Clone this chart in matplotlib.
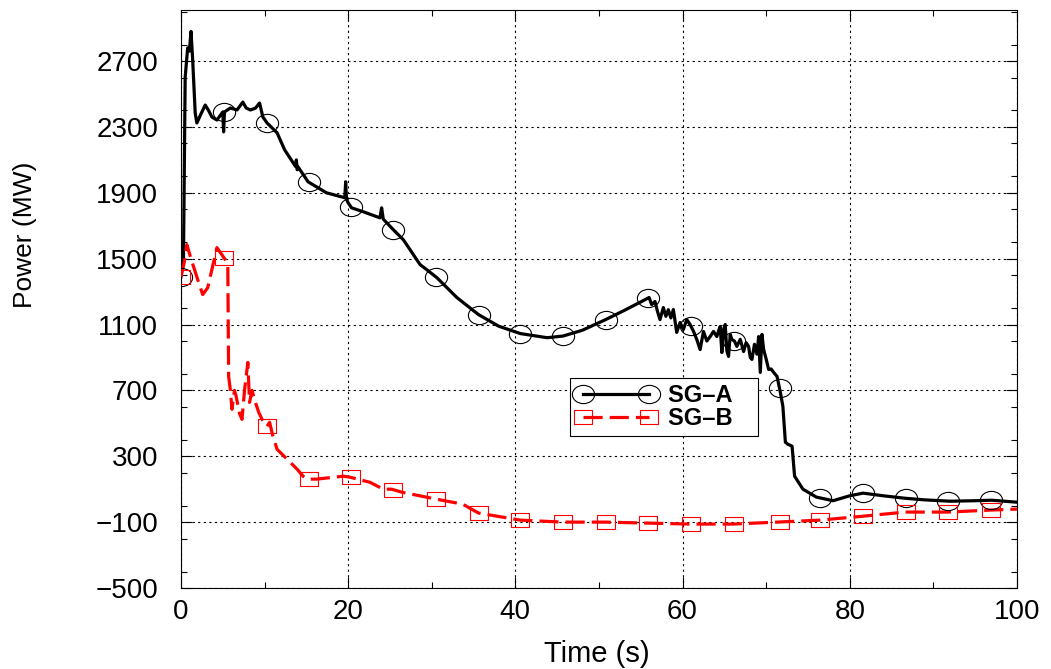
import numpy as np
import matplotlib
matplotlib.use("Agg")
import matplotlib.pyplot as plt
from matplotlib.ticker import MultipleLocator
from matplotlib.path import Path

plt.rcParams['font.family'] = ['Liberation Sans', 'DejaVu Sans']

# SG-A (black, solid)
sga_t = [0.0, 0.3, 0.5, 0.8, 1.0, 1.2, 1.4, 1.7, 1.9, 2.4, 2.9, 3.3, 3.7, 4.3, 5.0, 5.1, 5.2,
         5.9, 6.7, 7.4, 7.8, 8.3, 8.9, 9.4, 9.8, 10.3, 11.5, 12.4, 13.7, 13.8, 13.9, 14.0,
         15.2, 17.4, 19.6, 19.7, 19.8, 20.0, 20.4, 21.8, 23.8, 24.0, 24.2, 25.4, 26.6,
         28.6, 29.4, 30.6, 33.0, 35.6, 38.0, 40.6, 43.8, 45.7, 48.0, 50.8, 53.0, 55.1,
         56.0, 56.3, 56.7, 57.0, 57.3, 57.7, 58.0, 58.3, 58.6, 58.9,
         59.3, 59.7, 60.1, 60.5, 60.9, 61.3, 61.7, 62.1, 62.5, 62.9,
         63.3, 63.7, 64.1, 64.3, 64.5, 64.7, 64.9, 65.1,
         65.3, 65.5, 65.7, 65.9, 66.2, 66.5, 66.9, 67.3, 67.6, 67.9, 68.1, 68.3, 68.6, 68.9,
         69.1, 69.3, 69.5, 69.7, 70.0, 70.3, 70.6, 70.9, 71.3, 71.7, 72.0, 72.3, 72.6, 73.1,
         73.4, 74.4, 76.0, 78.0, 80.0, 81.6, 84.0, 86.6, 89.0, 92.0, 95.0, 97.0, 100.0]
sga_p = [1390, 1500, 2600, 2780, 2760, 2880, 2706, 2385, 2324, 2380, 2433, 2400, 2360, 2342,
         2391, 2270, 2391, 2415, 2403, 2451, 2415, 2403, 2414, 2445, 2360, 2324, 2264, 2161,
         2060, 2100, 2040, 2058, 1967, 1900, 1870, 1967, 1860, 1839, 1809, 1785, 1748, 1809,
         1740, 1676, 1615, 1464, 1433, 1385, 1264, 1160, 1090, 1045, 1020, 1030, 1065, 1130,
         1185, 1240,
         1264, 1221, 1240, 1180, 1130, 1203, 1150, 1190, 1140, 1191,
         1052, 1112, 1070, 1130, 1100, 1060, 1009, 948, 1058, 1000,
         1027, 1058, 1027, 1060, 1088, 930, 1070, 1100,
         940, 906, 1040, 1009, 1000, 967, 1010, 936, 990, 967, 900, 888, 980, 920,
         1027, 809, 1040, 948, 890, 827, 830, 809, 785, 688, 603, 385, 373, 361,
         179, 100, 52, 30, 60, 76, 60, 45, 35, 27, 30, 33, 21]

# SG-B (red, dashed)
sgb_t = [0.0, 0.4, 0.7, 1.2, 2.0, 2.6, 3.2, 4.3, 5.3, 5.6, 5.7, 5.9, 6.1, 6.4, 6.6, 7.0,
         7.3, 7.6, 8.0, 8.2, 8.5, 8.9, 9.3, 9.7, 10.3, 10.6, 11.0, 11.5, 12.7, 13.9, 14.6,
         15.2, 16.2, 19.4, 20.2, 22.6, 24.2, 25.2, 26.4, 30.6, 33.7, 35.6, 40.6, 45.7, 50.8,
         55.9, 61.0, 66.0, 71.3, 76.4, 81.6, 86.6, 91.7, 96.8, 100.0]
sgb_p = [1390, 1480, 1585, 1500, 1373, 1282, 1324, 1567, 1494, 1460, 785, 706, 585, 700, 664,
         560, 524, 700, 870, 627, 700, 627, 567, 524, 482, 506, 421, 342, 282, 221, 179, 161,
         161, 179, 173, 142, 100, 100, 82, 39, 9, -45, -88, -100, -100, -106, -112, -112,
         -100, -88, -64, -39, -39, -27, -21]

# marker positions (s)
mark_t = [0.0, 5.2, 10.3, 15.3, 20.3, 25.4, 30.5, 35.6, 40.6, 45.7, 50.8, 55.9, 61.0,
          66.1, 71.6, 76.4, 81.6, 86.7, 91.8, 96.9]

# slightly flattened circle / rectangle markers like the original
circ = Path.unit_circle()
ell = Path(circ.vertices * np.array([1.0, 0.82]), circ.codes)
rect = Path([(-1, -0.78), (1, -0.78), (1, 0.78), (-1, 0.78), (-1, -0.78)],
            [Path.MOVETO, Path.LINETO, Path.LINETO, Path.LINETO, Path.CLOSEPOLY])

fig = plt.figure(figsize=(10.51, 6.69), dpi=100)
ax = fig.add_axes([0.1722, 0.1211, 0.7954, 0.8639])

ax.plot(sga_t, sga_p, color='black', lw=2.3, zorder=3)
ax.plot(mark_t, np.interp(mark_t, sga_t, sga_p), ls='none', marker=ell, ms=16,
        mfc='none', mec='black', mew=0.8, zorder=4)
ax.plot(sgb_t, sgb_p, color='red', lw=2.3, dashes=(6, 2.2), zorder=3)
ax.plot(mark_t, np.interp(mark_t, sgb_t, sgb_p), ls='none', marker=rect, ms=13,
        mfc='none', mec='red', mew=0.8, zorder=4)

# legend handles
la, = ax.plot([], [], color='black', lw=2.3, marker=ell, ms=16, mfc='none', mec='black', mew=0.8)
lb, = ax.plot([], [], color='red', lw=2.3, dashes=(6, 2.2), marker=rect, ms=13, mfc='none',
              mec='red', mew=0.8)
leg = ax.legend([la, lb], ['SG\u2013A   ', 'SG\u2013B   '], loc='upper left',
                bbox_to_anchor=(0.4653, 0.3633), borderaxespad=0, numpoints=2,
                handlelength=3.4, prop={'weight': 'bold', 'size': 17}, fancybox=False,
                framealpha=1, edgecolor='black', borderpad=0.25, labelspacing=0.0,
                handletextpad=0.5)
leg.get_frame().set_linewidth(0.8)

ax.set_xlim(0, 100)
ax.set_ylim(-500, 3010)
ax.set_yticks(np.arange(-500, 2701, 400))
ax.xaxis.set_major_locator(MultipleLocator(20))
ax.xaxis.set_minor_locator(MultipleLocator(10))
ax.yaxis.set_minor_locator(MultipleLocator(200))
ax.tick_params(which='both', direction='in', top=True, right=True, labelsize=20)
ax.tick_params(which='major', length=8, width=0.8)
ax.tick_params(which='minor', length=4, width=0.8)
ax.tick_params(axis='y', pad=16.5)
ax.tick_params(axis='x', pad=8)
ax.grid(True, which='major', color='black', ls=(0, (2, 3)), lw=0.8)
for s in ax.spines.values():
    s.set_linewidth(0.8)

ax.set_xlabel('Time (s)', fontsize=21)
ax.set_ylabel('Power (MW)', fontsize=19)
ax.xaxis.set_label_coords(0.498, -0.09)
ax.yaxis.set_label_coords(-0.172, 0.611)

fig.savefig('out.png', dpi=100)
